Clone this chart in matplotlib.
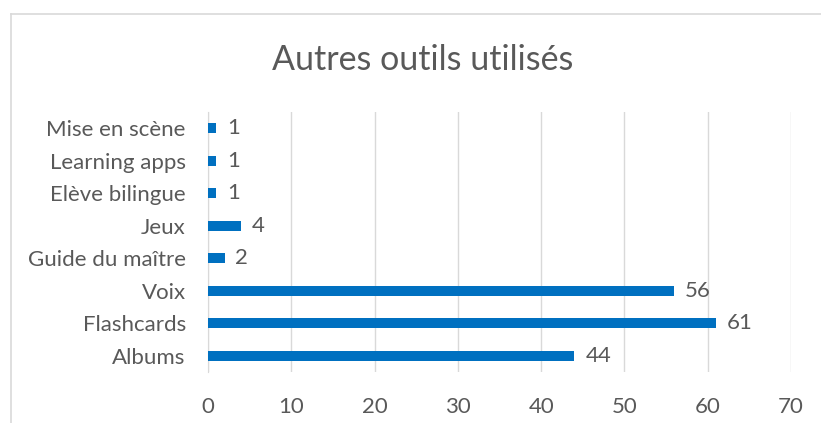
import matplotlib
matplotlib.use('Agg')
import matplotlib.pyplot as plt
from matplotlib.lines import Line2D

categories = ['Albums', 'Flashcards', 'Voix', 'Guide du maître', 'Jeux',
              'Elève bilingue', 'Learning apps', 'Mise en scène']
values = [44, 61, 56, 2, 4, 1, 1, 1]

plt.rcParams['font.family'] = ['Lato', 'DejaVu Sans']
text_col = '#595959'
grid_col = '#D9D9D9'

fig = plt.figure(figsize=(8.21, 4.23), dpi=100)
ax = fig.add_axes([208 / 821, 51 / 423, 583 / 821, 260 / 423])

y = range(len(categories))
ax.barh(y, values, height=0.31, color='#0070C0', zorder=3)
for i, v in enumerate(values):
    ax.text(v + 1.3, i, str(v), va='center', ha='left', fontsize=16, color=text_col)

ax.set_xlim(0, 70)
ax.set_ylim(-0.5, len(categories) - 0.5)
ax.set_xticks(range(0, 71, 10))
ax.set_yticks(list(y))
ax.set_yticklabels(categories)
ax.tick_params(axis='both', length=0, labelsize=16, labelcolor=text_col)
ax.tick_params(axis='x', pad=18)
ax.tick_params(axis='y', pad=16)
ax.grid(axis='x', color=grid_col, linewidth=1, zorder=0)
for s in ['top', 'right', 'bottom']:
    ax.spines[s].set_visible(False)
ax.spines['left'].set_color(grid_col)

fig.text(0.5 * (270 + 575) / 821, 1 - 60 / 423, 'Autres outils utilisés',
         ha='center', va='center', fontsize=24.5, color=text_col)

# chart border (top and left edges visible)
fig.add_artist(Line2D([11 / 821, 1.0], [1 - 14 / 423] * 2, color=grid_col, lw=1.2))
fig.add_artist(Line2D([11 / 821] * 2, [0, 1 - 14 / 423], color=grid_col, lw=1.2))

fig.savefig('out.png', dpi=100)
